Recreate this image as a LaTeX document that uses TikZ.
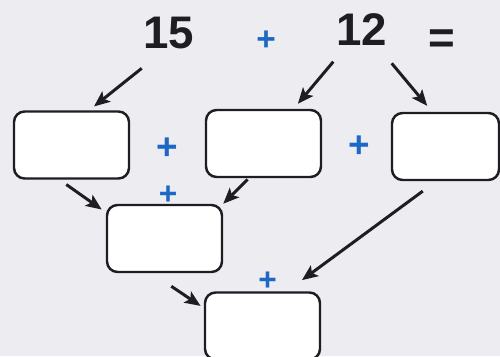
\documentclass[tikz,border=0pt]{standalone}
\usepackage{fontspec}
\setmainfont{Liberation Sans}
\usepackage{tikz}
\usetikzlibrary{arrows.meta,calc}
\definecolor{pageBg}{RGB}{236,236,241}
\definecolor{plusBlue}{RGB}{28,104,196}
\definecolor{inkDark}{RGB}{30,30,34}

\begin{document}
\begin{tikzpicture}[
    x=0.02cm, y=-0.02cm,
    box/.style={draw=inkDark, line width=1.4pt, rounded corners=6pt, fill=white,
        minimum width=2.3cm, minimum height=1.34cm, inner sep=0pt},
    num/.style={font=\fontsize{26}{26}\selectfont\bfseries, text=inkDark, inner sep=1pt},
    plusmark/.style={font=\fontsize{#1}{#1}\selectfont\bfseries, text=plusBlue, inner sep=0pt},
    arr/.style={-{Stealth[length=9pt, width=7.5pt, inset=2pt]}, line width=1.7pt, draw=inkDark}
]
\useasboundingbox[fill=pageBg] (0,0) rectangle (500,356);

% the sum on top
\node[num] (n15) at (169,33) {15};
\node[plusmark=19] (pTop) at (266,41) {+};
\node[num] (n12) at (361.5,30) {12};
\node[num] (eq) at (442,42) {=};

% first row
\node[box] (boxA) at (71.5,145) {};
\node[box] (boxB) at (263.5,143.5) {};
\node[box, minimum width=2.14cm] (boxC) at (445.5,146.5) {};
\node[plusmark=21] (pAB) at (167.5,148.5) {+};
\node[plusmark=21] (pBC) at (359,147) {+};

% second and third row
\node[box] (boxD) at (164.5,238.5) {};
\node[plusmark=18] (pD) at (168,195) {+};
\node[box] (boxE) at (262.5,326) {};
\node[plusmark=18] (pE) at (267.5,281) {+};

% arrow tails below the numbers
\coordinate (t15) at (141.7,68.3);
\coordinate (t12a) at (333.3,61.7);
\coordinate (t12b) at (391.7,63.3);

\draw[arr, shorten >=3.5pt] (t15) -- (boxA.63);
\draw[arr, shorten >=3.7pt] (t12a) -- (boxB.49);
\draw[arr, shorten >=4.4pt] (t12b) -- (boxC.111);
\draw[arr, shorten <=4.7pt, shorten >=2.8pt] (boxA.251) -- (boxD.156);
\draw[arr, shorten <=1pt] (boxB.247) -- (boxD.north east);
\draw[arr, shorten <=9.5pt, shorten >=10.7pt] (boxC.255) -- (boxE.55);
\draw[arr, shorten <=13.3pt, shorten >=2.2pt] (boxD.250) -- (boxE.163);
\end{tikzpicture}
\end{document}
